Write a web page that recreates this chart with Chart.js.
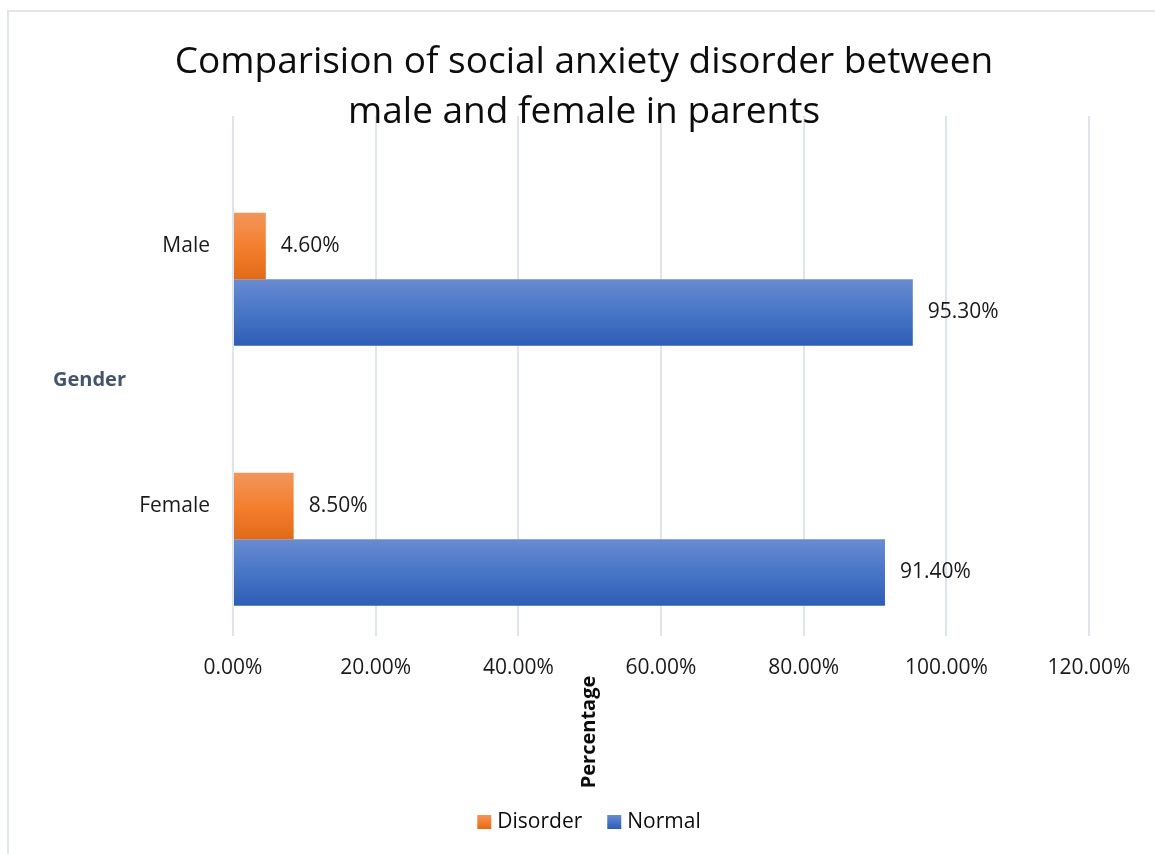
<!DOCTYPE html>
<html>
<head>
<meta charset="utf-8">
<script src="https://cdn.jsdelivr.net/npm/chart.js@4.4.1/dist/chart.umd.min.js"></script>
<style>
  html, body { margin: 0; padding: 0; background: #fff; }
</style>
</head>
<body>
<canvas id="myChart" width="1155" height="854"></canvas>
<script>
var categories = ['Male', 'Female'];
var disorderValues = [4.6, 8.5];
var normalValues = [95.3, 91.4];
var tickValues = [0, 20, 40, 60, 80, 100, 120];
var titleLines = ['Comparision of social anxiety disorder between', 'male and female in parents'];

var FONT = '"Open Sans", sans-serif';
Chart.defaults.font.family = FONT;

// vertical gradient stops per series (top, middle, bottom)
var barShades = {
  'Disorder': ['#f2965c', '#f47f2f', '#e26a17'],
  'Normal': ['#6a8bd0', '#4775c7', '#2e5db5']
};

function shade(ctx, stops, top, bottom) {
  var g = ctx.createLinearGradient(0, top, 0, bottom);
  g.addColorStop(0, stops[0]);
  g.addColorStop(0.5, stops[1]);
  g.addColorStop(1, stops[2]);
  return g;
}

var gradientBars = {
  id: 'gradientBars',
  afterDatasetsUpdate: function(chart) {
    chart.data.datasets.forEach(function(ds, i) {
      var stops = barShades[ds.label];
      if (!stops) return;
      chart.getDatasetMeta(i).data.forEach(function(bar) {
        var top = bar.y - bar.height / 2;
        bar.options = Object.assign({}, bar.options, {
          backgroundColor: shade(chart.ctx, stops, top, top + bar.height)
        });
      });
    });
  }
};

var valueLabels = {
  id: 'valueLabels',
  afterDatasetsDraw: function(chart) {
    var ctx = chart.ctx;
    ctx.save();
    ctx.font = '21px ' + FONT;
    ctx.fillStyle = '#1a1a1a';
    ctx.textAlign = 'left';
    ctx.textBaseline = 'middle';
    chart.data.datasets.forEach(function(ds, i) {
      if (!barShades[ds.label]) return;
      chart.getDatasetMeta(i).data.forEach(function(bar, j) {
        ctx.fillText(ds.data[j].toFixed(2) + '%', bar.x + 15, bar.y);
      });
    });
    ctx.restore();
  }
};

// frame, title, axis titles and legend row
var decorations = {
  id: 'decorations',
  beforeDraw: function(chart) {
    var ctx = chart.ctx;
    ctx.save();
    ctx.fillStyle = '#fff';
    ctx.fillRect(0, 0, chart.width, chart.height);
    ctx.strokeStyle = '#e0e4eb';
    ctx.lineWidth = 2;
    ctx.strokeRect(8, 11, chart.width + 20, chart.height + 20);
    ctx.restore();
  },
  afterDraw: function(chart) {
    var ctx = chart.ctx;
    ctx.save();

    ctx.fillStyle = '#0d0d0d';
    ctx.font = '37px ' + FONT;
    ctx.textAlign = 'center';
    ctx.textBaseline = 'alphabetic';
    titleLines.forEach(function(line, i) {
      ctx.fillText(line, 584, 73 + i * 50);
    });

    ctx.font = 'bold 20px ' + FONT;
    ctx.fillStyle = '#44546a';
    ctx.textAlign = 'left';
    ctx.fillText('Gender', 53, 386);

    ctx.save();
    ctx.translate(595, 732);
    ctx.rotate(-Math.PI / 2);
    ctx.fillStyle = '#0d0d0d';
    ctx.textAlign = 'center';
    ctx.fillText('Percentage', 0, 0);
    ctx.restore();

    // legend
    ctx.font = '21px ' + FONT;
    var items = chart.data.datasets.filter(function(ds) { return barShades[ds.label]; });
    var box = 14, gap = 6, spacing = 25;
    var total = 0;
    items.forEach(function(ds, i) {
      total += box + gap + ctx.measureText(ds.label).width + (i ? spacing : 0);
    });
    var x = 589 - total / 2;
    var baseline = 828;
    items.forEach(function(ds) {
      ctx.fillStyle = shade(ctx, barShades[ds.label], baseline - 13, baseline + 1);
      ctx.fillRect(x, baseline - 13, box, box);
      x += box + gap;
      ctx.fillStyle = '#0d0d0d';
      ctx.fillText(ds.label, x, baseline);
      x += ctx.measureText(ds.label).width + spacing;
    });

    ctx.restore();
  }
};

var ctx = document.getElementById('myChart');
var myBarChart = new Chart(ctx, {
  type: 'bar',
  data: {
    labels: categories,
    datasets: [
      { label: '', data: categories.map(function() { return null; }) },
      { label: 'Disorder', data: disorderValues, backgroundColor: '#f47f2f' },
      { label: 'Normal', data: normalValues, backgroundColor: '#4775c7' }
    ]
  },
  options: {
    indexAxis: 'y',
    responsive: false,
    animation: false,
    events: [],
    categoryPercentage: 0.767,
    barPercentage: 1,
    borderWidth: 0,
    layout: { padding: { top: 116, right: 66, left: 0, bottom: 0 } },
    plugins: {
      legend: { display: false },
      title: { display: false },
      tooltip: { enabled: false }
    },
    scales: {
      x: {
        min: tickValues[0],
        max: tickValues[tickValues.length - 1],
        afterBuildTicks: function(scale) {
          scale.ticks = tickValues.map(function(v) { return { value: v }; });
        },
        afterFit: function(scale) {
          scale.height = 854 - 636;
          scale.paddingLeft = 0;
          scale.paddingRight = 0;
        },
        ticks: {
          padding: 19,
          color: '#1a1a1a',
          font: { size: 21 },
          maxRotation: 0,
          callback: function(v) { return v.toFixed(2) + '%'; }
        },
        grid: { color: '#e0e4eb', lineWidth: 2, drawTicks: false },
        border: { display: false }
      },
      y: {
        afterFit: function(scale) {
          scale.width = 233;
          scale.paddingTop = 0;
          scale.paddingBottom = 0;
        },
        ticks: { padding: 15, color: '#1a1a1a', font: { size: 21 } },
        grid: { display: false },
        border: { display: false }
      }
    }
  },
  plugins: [gradientBars, valueLabels, decorations]
});
</script>
</body>
</html>
